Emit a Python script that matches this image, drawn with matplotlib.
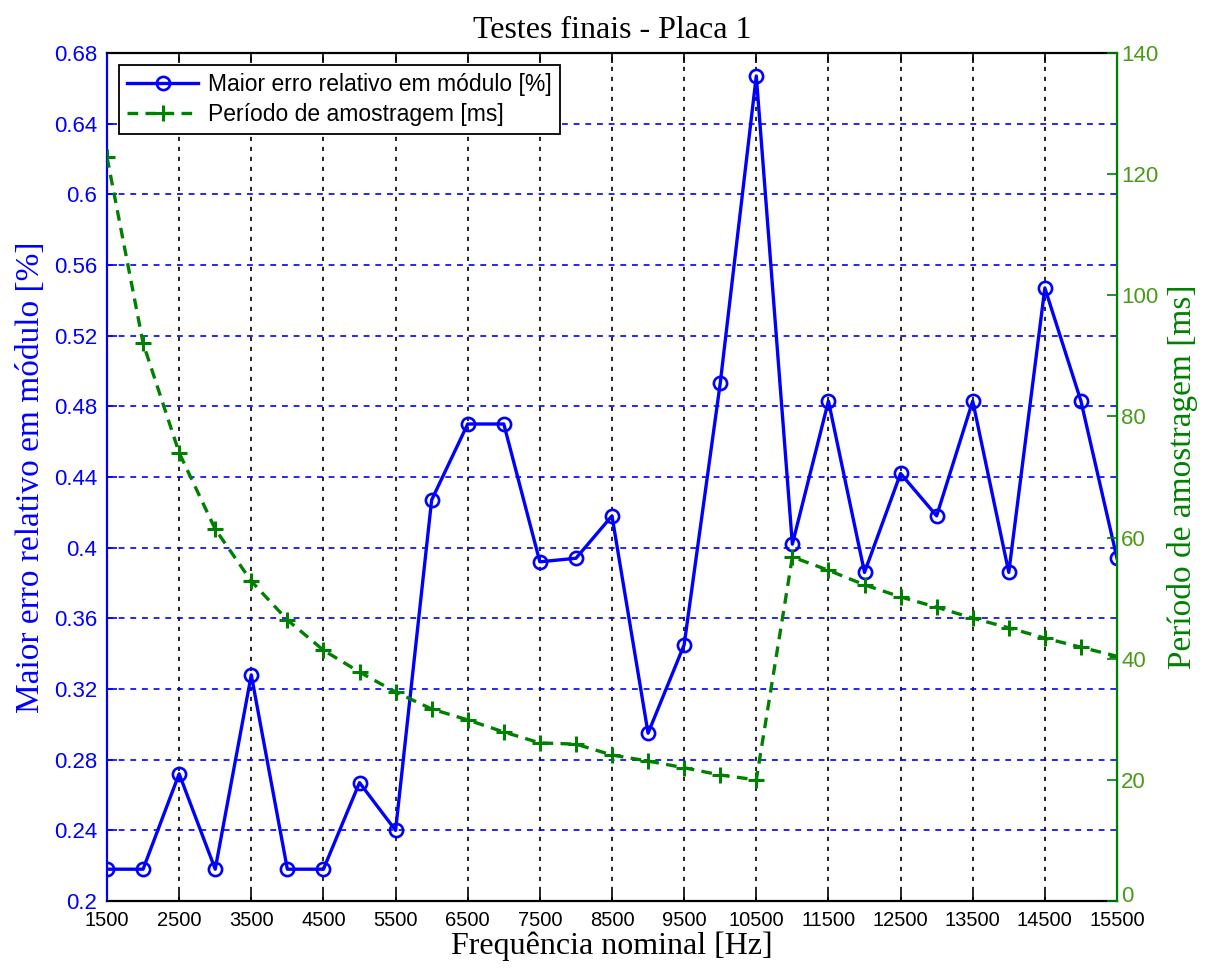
import matplotlib
matplotlib.use("Agg")
import matplotlib.pyplot as plt
import matplotlib.transforms as mtransforms
import numpy as np

freq = [1500, 2000, 2500, 3000, 3500, 4000, 4500, 5000, 5500, 6000,
        6500, 7000, 7500, 8000, 8500, 9000, 9500, 10000, 10500, 11000,
        11500, 12000, 12500, 13000, 13500, 14000, 14500, 15000, 15500]
erro = [0.218, 0.218, 0.272, 0.218, 0.328, 0.218, 0.218, 0.267, 0.240, 0.427,
        0.470, 0.470, 0.392, 0.394, 0.418, 0.295, 0.345, 0.493, 0.667, 0.402,
        0.483, 0.386, 0.442, 0.418, 0.483, 0.386, 0.547, 0.483, 0.394]
periodo = [122.8, 92.1, 74.0, 61.4, 52.8, 46.4, 41.4, 37.8, 34.5, 31.7,
           29.9, 27.9, 26.1, 25.9, 24.1, 23.1, 22.0, 20.8, 20.0, 56.8,
           54.6, 52.2, 50.2, 48.5, 46.7, 45.1, 43.4, 41.9, 40.4]
xticks = list(range(1500, 15501, 1000))
left_ticks = [0.2, 0.24, 0.28, 0.32, 0.36, 0.4, 0.44, 0.48, 0.52, 0.56, 0.6, 0.64, 0.68]
left_labels = ["0.2", "0.24", "0.28", "0.32", "0.36", "0.4", "0.44", "0.48", "0.52", "0.56", "0.6", "0.64", "0.68"]
right_ticks = [0, 20, 40, 60, 80, 100, 120, 140]

BLUE = "#0000ff"
GREEN = "#008000"
GREEN_TXT = "#4a9a1a"
SANS = "Liberation Sans"
SERIF = "Liberation Serif"

fig = plt.figure(figsize=(12.13, 9.74), dpi=100)
ax = fig.add_axes([107/1213, 1-901/974, (1117-107)/1213, (901-53)/974])
ax2 = ax.twinx()

l1, = ax.plot(freq, erro, color=BLUE, lw=2.4, marker='o', ms=9.5, mfc='none', mec=BLUE, mew=1.9,
              label="Maior erro relativo em módulo [%]", zorder=5)
l2, = ax2.plot(freq, periodo, color=GREEN, lw=2.4, ls=(0, (3.2, 2.2)), marker='+', ms=12, mew=2.2,
               label="Período de amostragem [ms]")

ax.set_xlim(1500, 15500)
ax.set_ylim(0.2, 0.68)
ax2.set_ylim(0, 140)
ax.set_xticks(xticks)
ax.set_xticklabels([str(x) for x in xticks], fontsize=14.5, family=SANS)
ax.set_yticks(left_ticks)
ax.set_yticklabels(left_labels, fontsize=16, family=SANS, color=BLUE)
ax2.set_yticks(right_ticks)
ax2.set_yticklabels([str(t) for t in right_ticks], fontsize=16, family=SANS, color=GREEN_TXT)

ax.tick_params(axis='x', direction='in', length=7, top=True, width=1.2, pad=7.5)
ax.tick_params(axis='y', direction='in', length=7, colors=BLUE, width=1.2, labelcolor=BLUE, pad=7)
ax2.tick_params(axis='y', direction='in', length=7, colors=GREEN, width=1.2, labelcolor=GREEN_TXT, pad=3)

# lift the right "0" label slightly so it clears the "15500" tick label
zero_lbl = ax2.get_yticklabels()[0]
zero_lbl.set_transform(zero_lbl.get_transform() +
                       mtransforms.ScaledTranslation(0, 5/72, fig.dpi_scale_trans))

# grid
for x in xticks[1:-1]:
    ax.axvline(x, color='black', ls=(0, (2.5, 3.5)), lw=1.2, zorder=0)
for y in left_ticks[1:-1]:
    ax.axhline(y, color=BLUE, ls=(0, (3.5, 3.5)), lw=1.2, zorder=0)

for s in ['top', 'bottom']:
    ax.spines[s].set_color('black')
    ax.spines[s].set_linewidth(1.6)
ax.spines['left'].set_color(BLUE)
ax.spines['left'].set_linewidth(1.6)
ax2.spines['right'].set_color(GREEN)
ax2.spines['right'].set_linewidth(1.6)
ax2.spines['left'].set_visible(False)
ax2.spines['top'].set_visible(False)
ax2.spines['bottom'].set_visible(False)

ax.set_title("Testes finais - Placa 1", fontsize=23, family=SERIF, pad=11)
ax.set_xlabel("Frequência nominal [Hz]", fontsize=23, family=SERIF, labelpad=1)
ax.set_ylabel("Maior erro relativo em módulo [%]", fontsize=24, family=SERIF, color=BLUE, labelpad=6)
ax2.set_ylabel("Período de amostragem [ms]", fontsize=24, family=SERIF, color=GREEN, labelpad=6)

leg = ax2.legend(handles=[l1, l2], loc='upper left', bbox_to_anchor=(12/1010, 1-12/848),
                 prop={'family': SANS, 'size': 16.5}, fancybox=False, framealpha=1,
                 edgecolor='black', handlelength=3.1, handletextpad=0.45, borderpad=0.35,
                 labelspacing=0.3, borderaxespad=0)
leg.get_frame().set_linewidth(1.3)

fig.savefig("out.png", dpi=100)
